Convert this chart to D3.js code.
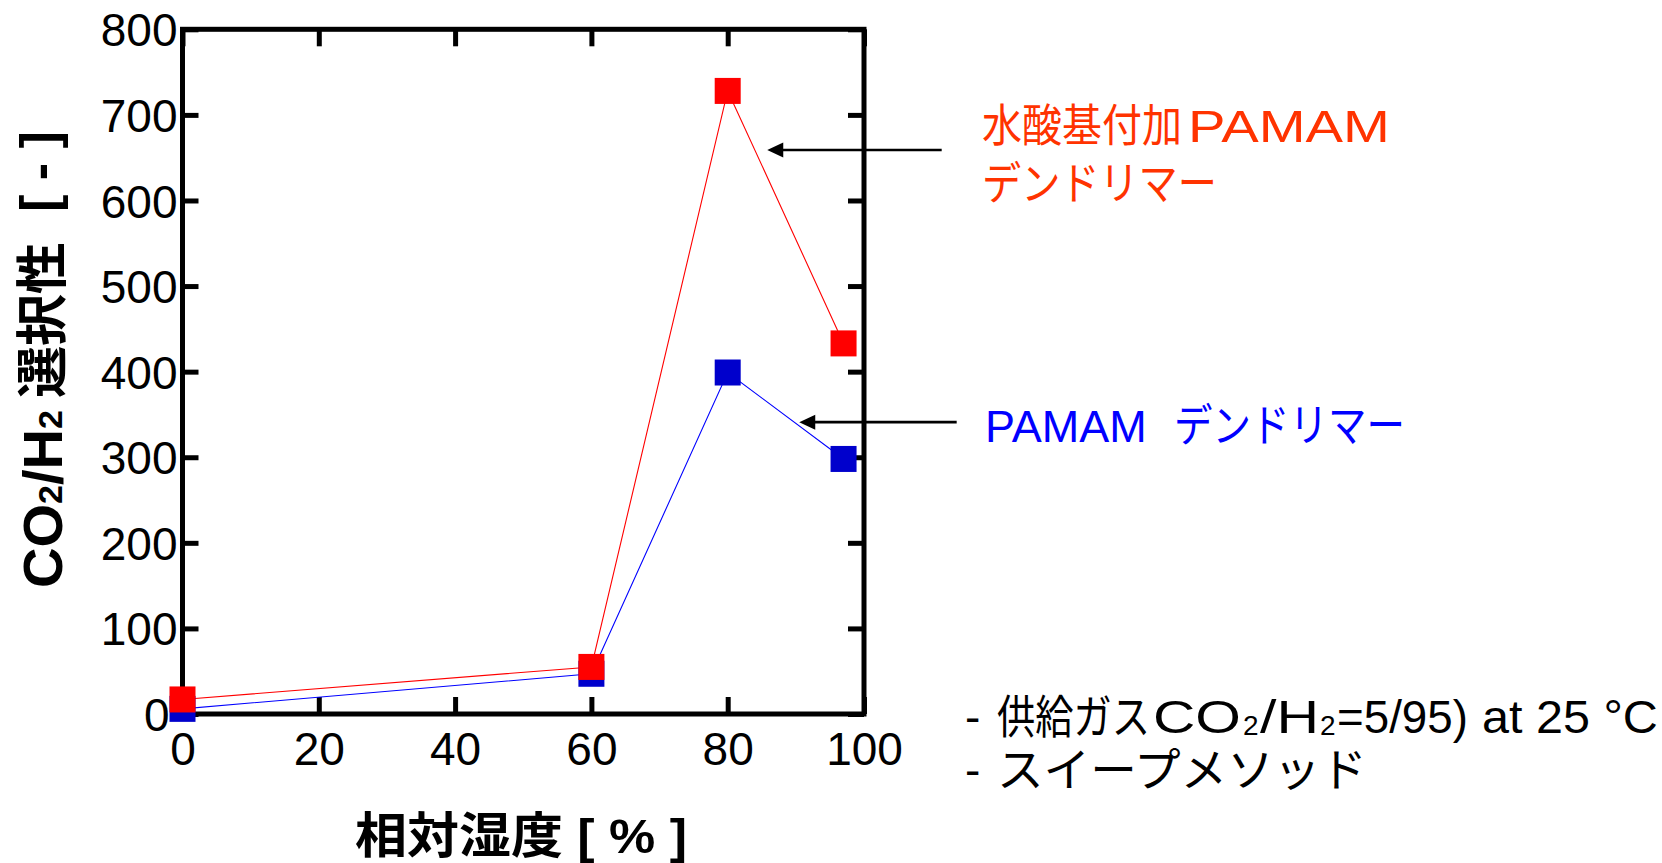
<!DOCTYPE html>
<html>
<head>
<meta charset="utf-8">
<script src="https://cdn.jsdelivr.net/npm/d3@7"></script>
<style>
  html, body { margin: 0; padding: 0; background: #fff; }
  svg { display: block; }
  text { font-family: "Liberation Sans", Arial, "Noto Sans CJK JP", sans-serif; }
</style>
</head>
<body>
<svg id="chart" width="1662" height="863"></svg>
<script>
// ---- data ----
const humidity = [0, 60, 80, 97];               // relative humidity [%]
const hydroxylPamam = [17, 55, 728, 433];      // 水酸基付加PAMAMデンドリマー
const pamam = [6, 47, 399, 298];               // PAMAMデンドリマー
const xTicks = [0, 20, 40, 60, 80, 100];
const yTicks = [0, 100, 200, 300, 400, 500, 600, 700, 800];
// annotation arrows in data units: [tailX, tipX, y]
const arrowRed = [111.4, 85.8, 659];
const arrowBlue = [113.6, 90.5, 341];

// ---- layout ----
const plotL = 182.5, plotR = 864, plotT = 29.3, plotB = 714;
const svg = d3.select("#chart");

const x = d3.scaleLinear().domain([0, 100]).range([plotL, plotR]);
const y = d3.scaleLinear().domain([0, 800]).range([plotB, plotT]);

const tickFont = 46;
const axW = 5;

// bottom axis (labels)
const gB = svg.append("g").attr("transform", `translate(0,${plotB})`)
  .call(d3.axisBottom(x).tickValues(xTicks).tickSizeInner(-17).tickSizeOuter(0).tickPadding(18));
// top axis (ticks only)
const gT = svg.append("g").attr("transform", `translate(0,${plotT})`)
  .call(d3.axisTop(x).tickValues(xTicks).tickSizeInner(-17).tickSizeOuter(0).tickFormat(""));
// left axis (labels)
const gL = svg.append("g").attr("transform", `translate(${plotL},0)`)
  .call(d3.axisLeft(y).tickValues(yTicks).tickSizeInner(-16).tickSizeOuter(0).tickPadding(5));
// right axis (ticks only)
const gR = svg.append("g").attr("transform", `translate(${plotR},0)`)
  .call(d3.axisRight(y).tickValues(yTicks).tickSizeInner(-16).tickSizeOuter(0).tickFormat(""));

[gB, gT, gL, gR].forEach(g => {
  g.select(".domain").remove();
  g.selectAll(".tick line").attr("stroke", "#000").attr("stroke-width", axW);
  g.selectAll(".tick text").attr("fill", "#000").attr("font-size", tickFont)
    .attr("font-family", "'Liberation Sans', Arial, sans-serif");
});
gL.selectAll(".tick text").attr("dy", "0.36em");
gL.selectAll(".tick text").filter(d => d === 0).attr("x", -13);

// frame
svg.append("rect")
  .attr("x", plotL).attr("y", plotT)
  .attr("width", plotR - plotL).attr("height", plotB - plotT)
  .attr("fill", "none").attr("stroke", "#000").attr("stroke-width", axW);

// ---- series ----
const series = [
  { vals: pamam, line: "#0000FF", fill: "#0000CC", lw: 1.1 },
  { vals: hydroxylPamam, line: "#FF0000", fill: "#FF0000", lw: 1.1 }
];
const lineGen = d3.line().x(d => x(d[0])).y(d => y(d[1]));
series.forEach(s => {
  const pts = humidity.map((h, i) => [h, s.vals[i]]);
  svg.append("path").attr("d", lineGen(pts))
    .attr("fill", "none").attr("stroke", s.line).attr("stroke-width", s.lw);
});
const msz = 26;
series.forEach(s => {
  const pts = humidity.map((h, i) => [h, s.vals[i]]);
  svg.append("g").selectAll("rect").data(pts).join("rect")
    .attr("x", d => x(d[0]) - msz / 2).attr("y", d => y(d[1]) - msz / 2)
    .attr("width", msz).attr("height", msz).attr("fill", s.fill);
});

// ---- arrows ----
function arrow(a) {
  const x0 = x(a[0]), x1 = x(a[1]), yy = y(a[2]);
  const hl = 16, hw = 7.5;
  svg.append("line").attr("x1", x0).attr("x2", x1 + hl - 1).attr("y1", yy).attr("y2", yy)
    .attr("stroke", "#000").attr("stroke-width", 2.6);
  svg.append("path")
    .attr("d", `M${x1},${yy} L${x1 + hl},${yy - hw} L${x1 + hl},${yy + hw} Z`)
    .attr("fill", "#000");
}
arrow(arrowRed);
arrow(arrowBlue);

// ---- texts ----
// natural text, optionally scaled horizontally to a target width
function fit(s, xp, yp, opts) {
  const g = svg.append("g");
  const t = g.append("text").attr("x", 0).attr("y", 0).text(s)
    .attr("font-size", opts.size).attr("fill", opts.fill || "#000");
  if (opts.weight) t.attr("font-weight", opts.weight);
  let k = 1;
  if (opts.len) {
    const nat = t.node().getComputedTextLength();
    if (nat > 0) k = opts.len / nat;
  }
  g.attr("transform", `translate(${xp},${yp}) scale(${k},1)`);
  return t;
}
const redC = "#FF3300", blueC = "#0000FF";
fit("水酸基付加", 982, 142, { size: 45, fill: redC, len: 200 });
fit("PAMAM", 1188, 142, { size: 45, fill: redC, len: 202 });
fit("デンドリマー", 982, 200, { size: 45, fill: redC, len: 235 });
fit("PAMAM", 985, 442, { size: 45, fill: blueC });
fit("デンドリマー", 1174, 442, { size: 45, fill: blueC, len: 231 });

// notes
fit("-", 965, 733, { size: 46 });
fit("供給ガス", 997, 733, { size: 46, len: 153 });
fit("CO", 1153, 733, { size: 46, len: 88 });
fit("2", 1243, 735, { size: 28 });
fit("/H", 1260, 733, { size: 46, len: 59 });
fit("2", 1320, 735, { size: 28 });
fit("=5/95)", 1337, 733, { size: 46, len: 131 });
fit("at 25 °C", 1482, 733, { size: 46, len: 176 });
fit("-", 965, 786, { size: 46 });
fit("スイープメソッド", 997, 786, { size: 46, len: 370 });

// x-axis title
fit("相対湿度 [ % ]", 355, 853, { size: 49, weight: "bold", len: 332 });

// y-axis title (rotated)
const gy = svg.append("g").attr("transform", "rotate(-90)");
const t1 = gy.append("text").attr("x", -588).attr("y", 62).attr("font-size", 56)
  .attr("font-weight", "bold").attr("fill", "#000");
t1.append("tspan").text("CO");
t1.append("tspan").text("2").attr("font-size", 34);
t1.append("tspan").text("/H");
t1.append("tspan").text("2").attr("font-size", 34);
gy.append("text").attr("x", -398).attr("y", 61).attr("font-size", 52)
  .attr("font-weight", "bold").attr("fill", "#000").text("選択性");
gy.append("text").attr("x", -212).attr("y", 57).attr("font-size", 52)
  .attr("font-weight", "bold").attr("fill", "#000").text("[ - ]");
</script>
</body>
</html>
